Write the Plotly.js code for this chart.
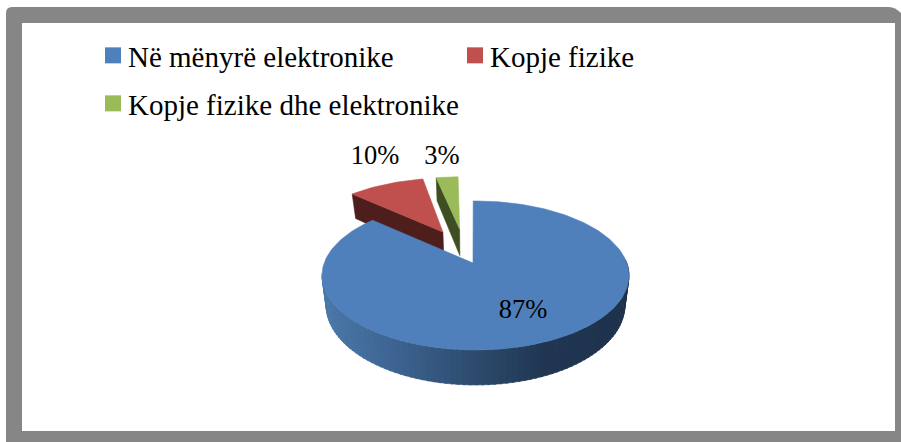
<!DOCTYPE html>
<html><head><meta charset="utf-8">
<script src="https://cdn.plot.ly/plotly-3.0.0.min.js"></script>
<style>html,body{margin:0;padding:0;background:#fff}#c{width:901px;height:442px}</style>
</head><body><div id="c"></div>
<script>
var categories = ["Në mënyrë elektronike", "Kopje fizike", "Kopje fizike dhe elektronike"];
var percents = [87, 10, 3];
var faceColors = ["#4f80bb", "#bf504d", "#9bbb59"];
var wallColors = ["#24405f", "#4e1e1c", "#3e4d22"];
var labelX = [523, 375, 442], labelY = [311, 157, 157];

// pie projection (pixel space on hidden axes)
var FONT = "Liberation Serif, serif";
var cx = 475.5, cy = 263, A = 151.3, B = 72.4, P = 0.1677, D = 29.1, START = -1;
var pull = [0, 0.532, 0.579], nudgeX = [-2.5, 4.5, -7], nudgeY = [0, 0, 4];

function proj(X, Y, drop) {
  var w = 1 + P * Y;
  return [cx + A * X * (1 - 0.027 * drop) / w, cy - B * Y / w + drop * D / w];
}
function rad(d) { return d * Math.PI / 180; }

var slices = [], acc = START;
percents.forEach(function (v) { slices.push({ a0: acc, a1: acc + v * 3.6 }); acc += v * 3.6; });

function apexWorld(i) {
  var mid = rad((slices[i].a0 + slices[i].a1) / 2);
  return [pull[i] * Math.sin(mid), pull[i] * Math.cos(mid)];
}
function wedgeWorld(i, deg) {
  var a = apexWorld(i);
  return [Math.sin(rad(deg)) + a[0], Math.cos(rad(deg)) + a[1]];
}
function poly(points, color, name) {
  return { type: "scatter", mode: "lines", x: points.map(function (p) { return p[0]; }), y: points.map(function (p) { return p[1]; }),
    fill: "toself", fillcolor: color, line: { width: 0.6, color: color }, hoverinfo: "skip", showlegend: false, name: name };
}
function place(i, p) { return [p[0] + (i === 0 ? 0 : nudgeX[i]), p[1] + nudgeY[i]]; }
function face(i) {
  var a = apexWorld(i), ap = proj(a[0], a[1], 0);
  var pts = [i === 0 ? [ap[0] + nudgeX[0], ap[1]] : place(i, ap)];
  for (var d = slices[i].a0; d <= slices[i].a1 + 1e-6; d += 1.5) {
    var w = wedgeWorld(i, d); pts.push(place(i, proj(w[0], w[1], 0)));
  }
  pts.push(pts[0]);
  return poly(pts, faceColors[i], categories[i]);
}
function innerWall(i, deg) {
  var a = apexWorld(i), e = wedgeWorld(i, deg);
  var p = [proj(e[0], e[1], 0), proj(a[0], a[1], 0), proj(a[0], a[1], 1), proj(e[0], e[1], 1)];
  p = p.map(function (q) { return place(i, q); }); p.push(p[0]);
  return poly(p, wallColors[i], categories[i] + " wall");
}
function lerp(a, b, t) { return Math.round(a + (b - a) * t); }
function wallShade(t) {
  var s = [[0, [74, 120, 170]], [0.22, [62, 100, 146]], [0.5, [44, 74, 108]], [0.72, [32, 54, 82]], [1, [30, 50, 76]]];
  for (var k = 1; k < s.length; k++) if (t <= s[k][0]) {
    var u = (t - s[k - 1][0]) / (s[k][0] - s[k - 1][0]);
    return "rgb(" + [0, 1, 2].map(function (c) { return lerp(s[k - 1][1][c], s[k][1][c], u); }).join(",") + ")";
  }
  return "rgb(30,50,76)";
}
var traces = [];
traces.push(innerWall(1, slices[1].a0), face(1));
traces.push(innerWall(2, slices[2].a0), face(2));
// outer wall of the large slice, left to right along the front
for (var d = 262; d > 88; d -= 2) {
  var pts = [], e0 = [Math.sin(rad(d)), Math.cos(rad(d))], e1 = [Math.sin(rad(d - 2.6)), Math.cos(rad(d - 2.6))];
  pts.push(proj(e0[0], e0[1], 0), proj(e1[0], e1[1], 0), proj(e1[0], e1[1], 1), proj(e0[0], e0[1], 1));
  pts.push(pts[0]);
  traces.push(poly(pts, wallShade((pts[0][0] - 322) / 307), "wall"));
}
traces.push(face(0));
// legend swatches: one small legend per entry
var legendIds = ["legend", "legend2", "legend3"];
categories.forEach(function (c, i) {
  traces.push({ type: "scatter", mode: "markers", x: [null], y: [null], name: c, showlegend: true, legend: legendIds[i],
    marker: { symbol: "square", size: 16, color: faceColors[i] }, hoverinfo: "skip" });
});
// data labels
traces.push({ type: "scatter", mode: "text", x: labelX, y: labelY, text: percents.map(function (v) { return v + "%"; }),
  textposition: "middle center", textfont: { family: FONT, size: 26.5, color: "#000" }, showlegend: false, hoverinfo: "skip" });

function legendAt(px, py) {
  return { x: px / 901, y: 1 - py / 442, xanchor: "left", yanchor: "top", itemsizing: "trace", itemwidth: 30,
    bgcolor: "rgba(0,0,0,0)", font: { family: FONT, size: 29, color: "#000" } };
}
var frame = "M6,13 Q6,7 12,7 L889,7 Q895,7 901,13 L901,442 L6,442 Z";
var layout = {
  width: 901, height: 442, margin: { l: 0, r: 0, t: 0, b: 0 }, paper_bgcolor: "#fff", plot_bgcolor: "rgba(0,0,0,0)",
  showlegend: true,
  xaxis: { range: [0, 901], visible: false, fixedrange: true },
  yaxis: { range: [442, 0], visible: false, fixedrange: true },
  shapes: [
    { type: "path", path: frame, xref: "x", yref: "y", fillcolor: "#868686", line: { width: 0 }, layer: "below" },
    { type: "rect", x0: 22, x1: 895, y0: 23, y1: 431, xref: "x", yref: "y", fillcolor: "#fff", line: { width: 0 }, layer: "below" }
  ],
  legend: legendAt(88, 30),
  legend2: legendAt(450, 30),
  legend3: legendAt(88, 78)
};
Plotly.newPlot("c", traces, layout, { displayModeBar: false, staticPlot: true }).then(function (gd) {
  // the swatches sit closer to their text than the legend's minimum item width allows
  gd.querySelectorAll(".legendsymbols").forEach(function (g) { g.setAttribute("transform", "translate(5,0)"); });
});
</script></body></html>
